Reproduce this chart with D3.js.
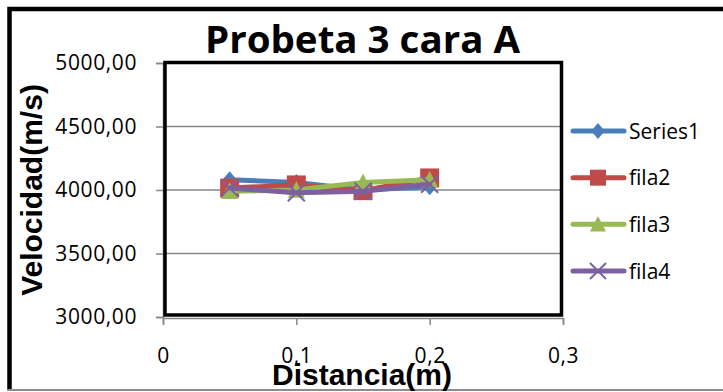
<!DOCTYPE html>
<html>
<head>
<meta charset="utf-8">
<script src="https://cdn.jsdelivr.net/npm/d3@7"></script>
<style>
  html, body { margin: 0; padding: 0; background: #fff; }
  svg { display: block; }
</style>
</head>
<body>
<svg id="chart" width="723" height="392"></svg>
<script>
// Distances (m) where the pulse velocity was measured
const distances = [0.05, 0.1, 0.15, 0.2];

// Velocity (m/s) per row of the specimen
const series1 = [4080, 4060, 4000, 4025];
const fila2   = [4015, 4040, 3995, 4095];
const fila3   = [3990, 4000, 4060, 4080];
const fila4   = [4015, 3978, 3990, 4045];

const seriesNames = ["Series1", "fila2", "fila3", "fila4"];
const seriesColors = ["#4a7ebb", "#be4b48", "#98b954", "#7d60a0"];
const seriesMarkers = ["diamond", "square", "triangle", "cross"];

const xTicks = [0, 0.1, 0.2, 0.3];
const yTicks = [3000, 3500, 4000, 4500, 5000];
const gridValues = [3500, 4000, 4500];

const titleText = "Probeta 3 cara A";
const xTitle = "Distancia(m)";
const yTitle = "Velocidad(m/s)";

const allSeries = [series1, fila2, fila3, fila4];

const svg = d3.select("#chart");
const labelFont = "'Open Sans', 'DejaVu Sans', sans-serif";
const boldFont = "'Liberation Sans', Arial, sans-serif";

// Spanish number formatting: comma as decimal separator
const locale = d3.formatLocale({ decimal: ",", thousands: ".", grouping: [3], currency: ["", "€"] });
const fmtY = locale.format(".2f");
const fmtX = locale.format(".1~f");

const plot = { left: 163, right: 563, top: 63, bottom: 317 };
const x = d3.scaleLinear().domain([0, 0.3]).range([plot.left, plot.right]);
const y = d3.scaleLinear().domain([3000, 5000]).range([plot.bottom, plot.top]);

// Outer chart border
svg.append("rect").attr("x", 0).attr("y", 0).attr("width", 723).attr("height", 392).attr("fill", "#fff");
svg.append("path")
  .attr("d", "M9.5,390 L9.5,9 L730,9")
  .attr("fill", "none").attr("stroke", "#000").attr("stroke-width", 4.5);
svg.append("line")
  .attr("x1", 7).attr("x2", 723).attr("y1", 390).attr("y2", 390)
  .attr("stroke", "#8c8c8c").attr("stroke-width", 2);

// Horizontal gridlines
svg.append("g").selectAll("line").data(gridValues).join("line")
  .attr("x1", plot.left).attr("x2", plot.right)
  .attr("y1", d => y(d)).attr("y2", d => y(d))
  .attr("stroke", "#878787").attr("stroke-width", 1.5);

// Y axis
const yAxis = svg.append("g")
  .attr("transform", `translate(${plot.left},0)`)
  .call(d3.axisLeft(y).tickValues(yTicks).tickFormat(fmtY).tickSize(7).tickPadding(19));
yAxis.select(".domain").attr("stroke", "#878787").attr("stroke-width", 1.5);
yAxis.selectAll(".tick line").attr("stroke", "#878787").attr("stroke-width", 1.5);
yAxis.selectAll(".tick text")
  .attr("font-family", labelFont).attr("font-size", 21).attr("letter-spacing", "0.6px")
  .attr("fill", "#000");

// X axis
const xAxis = svg.append("g")
  .attr("transform", `translate(0,${plot.bottom + 1})`)
  .call(d3.axisBottom(x).tickValues(xTicks).tickFormat(fmtX).tickSize(7).tickPadding(23));
xAxis.select(".domain").attr("stroke", "#878787").attr("stroke-width", 1.5);
xAxis.selectAll(".tick line").attr("stroke", "#878787").attr("stroke-width", 1.5);
xAxis.selectAll(".tick text")
  .attr("font-family", labelFont).attr("font-size", 21).attr("letter-spacing", "0.6px")
  .attr("fill", "#000");

// Plot area frame
svg.append("rect")
  .attr("x", plot.left + 2).attr("y", plot.top - 0.5)
  .attr("width", plot.right - plot.left - 3.5).attr("height", plot.bottom - plot.top - 1.5)
  .attr("fill", "none").attr("stroke", "#000").attr("stroke-width", 3.5);

// Marker shapes
function markerPath(type, s) {
  const h = s / 2;
  switch (type) {
    case "diamond": return `M0,${-h} L${h * 0.85},0 L0,${h} L${-h * 0.85},0 Z`;
    case "square": return `M${-h},${-h} H${h} V${h} H${-h} Z`;
    case "triangle": return `M0,${-h * 1.05} L${h},${h * 0.9} L${-h},${h * 0.9} Z`;
    case "cross": return `M${-h},${-h} L${h},${h} M${h},${-h} L${-h},${h}`;
  }
}
function drawMarker(g, type, color, cx, cy, s) {
  const p = g.append("path")
    .attr("d", markerPath(type, s))
    .attr("transform", `translate(${cx},${cy})`);
  if (type === "cross") {
    p.attr("fill", "none").attr("stroke", color).attr("stroke-width", 2);
  } else {
    p.attr("fill", color);
  }
}

const line = d3.line().x(d => x(d[0])).y(d => y(d[1]));

// Series: line then markers, in series order
allSeries.forEach((vals, i) => {
  const g = svg.append("g");
  const pts = distances.map((d, k) => [d, vals[k]]);
  g.append("path")
    .attr("d", line(pts))
    .attr("fill", "none")
    .attr("stroke", seriesColors[i])
    .attr("stroke-width", 5)
    .attr("stroke-linejoin", "round")
    .attr("stroke-linecap", "round");
  pts.forEach(p => drawMarker(g, seriesMarkers[i], seriesColors[i], x(p[0]), y(p[1]), seriesMarkers[i] === "square" ? 19 : 17));
});

// Legend
const legendY = d3.scalePoint().domain(seriesNames).range([131, 271]);
const legend = svg.append("g");
seriesNames.forEach((name, i) => {
  const ly = legendY(name);
  legend.append("line")
    .attr("x1", 573).attr("x2", 624).attr("y1", ly).attr("y2", ly)
    .attr("stroke", seriesColors[i]).attr("stroke-width", 5).attr("stroke-linecap", "round");
  drawMarker(legend, seriesMarkers[i], seriesColors[i], 598, ly, 16);
  legend.append("text")
    .attr("x", 629).attr("y", ly).attr("dy", "0.36em")
    .attr("font-family", labelFont).attr("font-size", 21)
    .attr("fill", "#000")
    .text(name);
});

// Axis titles
svg.append("text")
  .attr("x", 362).attr("y", 385)
  .attr("text-anchor", "middle")
  .attr("font-family", boldFont).attr("font-weight", "bold").attr("font-size", 30)
  .attr("fill", "#000")
  .text(xTitle);

svg.append("text")
  .attr("transform", "translate(42,190) rotate(-90)")
  .attr("text-anchor", "middle")
  .attr("font-family", boldFont).attr("font-weight", "bold").attr("font-size", 30)
  .attr("fill", "#000")
  .text(yTitle);

// Chart title
svg.append("text")
  .attr("x", 362.5).attr("y", 53)
  .attr("text-anchor", "middle")
  .attr("font-family", labelFont).attr("font-weight", "bold").attr("font-size", 37)
  .attr("textLength", 315).attr("lengthAdjust", "spacingAndGlyphs")
  .attr("fill", "#000")
  .text(titleText);
</script>
</body>
</html>
